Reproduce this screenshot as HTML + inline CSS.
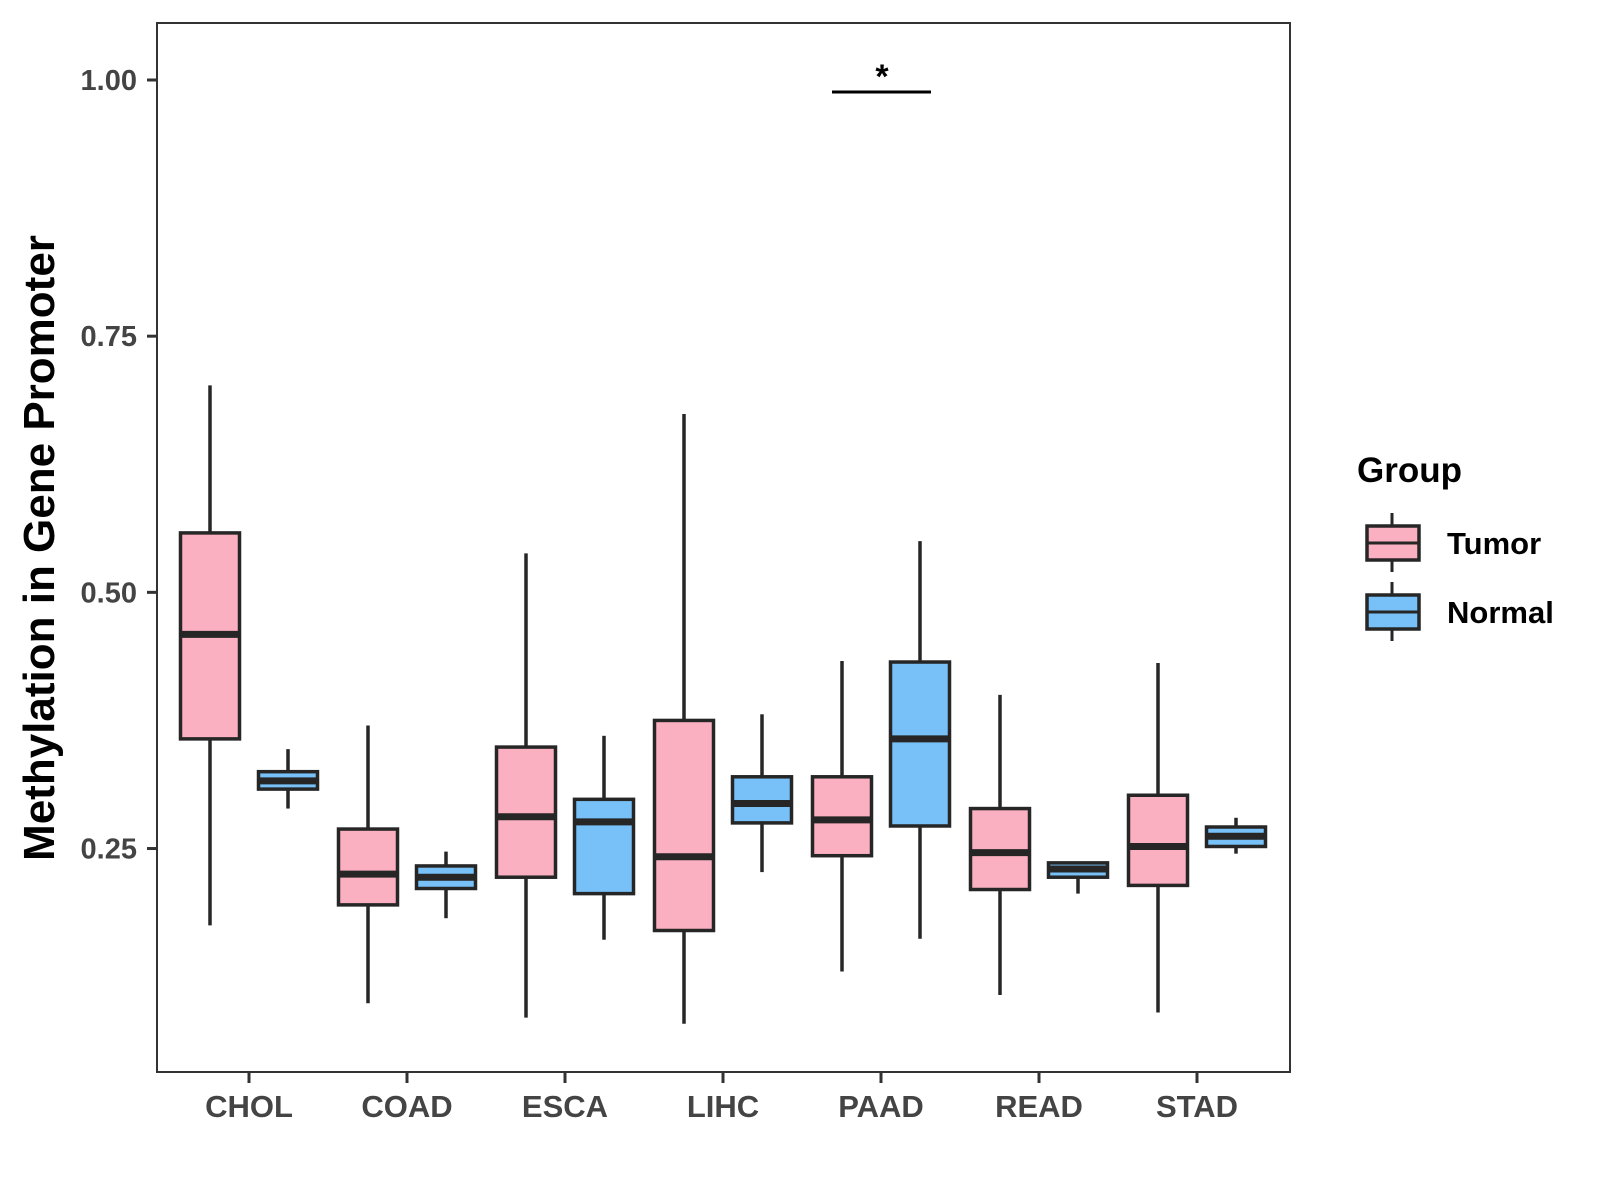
<!DOCTYPE html>
<html><head><meta charset="utf-8"><style>
html,body{margin:0;padding:0;background:#fff;}
svg{display:block;font-family:"Liberation Sans",Arial,sans-serif;}
</style></head><body>
<svg id="chart" width="1600" height="1200" viewBox="0 0 1600 1200" xmlns="http://www.w3.org/2000/svg">
<rect width="1600" height="1200" fill="#fff"/>
<g id="marks"></g>
<rect x="157" y="23" width="1133" height="1049" fill="none" stroke="#333" stroke-width="2"/>
<g id="axes"></g>
<text transform="translate(54,548) rotate(-90)" text-anchor="middle" font-size="44" font-weight="bold" fill="#000">Methylation in Gene Promoter</text>
<g>
<line x1="832" x2="931" y1="92" y2="92" stroke="#000" stroke-width="3"/>
<text x="882" y="88" text-anchor="middle" font-size="34" font-weight="bold">*</text>
</g>
<g>
<text x="1357" y="482" font-size="35" font-weight="bold" fill="#000">Group</text>
<g>
<line x1="1392" x2="1392" y1="513" y2="572" stroke="#262626" stroke-width="3"/>
<rect x="1367" y="526" width="52" height="34" fill="#FBB0C2" stroke="#262626" stroke-width="3.5"/>
<line x1="1367" x2="1419" y1="543" y2="543" stroke="#262626" stroke-width="3"/>
<text x="1447" y="554" font-size="31" font-weight="bold">Tumor</text>
</g>
<g>
<line x1="1392" x2="1392" y1="582" y2="641" stroke="#262626" stroke-width="3"/>
<rect x="1367" y="595" width="52" height="34" fill="#77C1F8" stroke="#262626" stroke-width="3.5"/>
<line x1="1367" x2="1419" y1="612" y2="612" stroke="#262626" stroke-width="3"/>
<text x="1447" y="623" font-size="31" font-weight="bold">Normal</text>
</g>
</g>
</svg>
<script>
const categories = ["CHOL","COAD","ESCA","LIHC","PAAD","READ","STAD"];
// each: [lowerWhisker, Q1, median, Q3, upperWhisker]
const tumorStats = [
  [0.175,0.357,0.459,0.558,0.702],
  [0.099,0.195,0.225,0.269,0.370],
  [0.085,0.222,0.281,0.349,0.538],
  [0.079,0.170,0.242,0.375,0.674],
  [0.130,0.243,0.278,0.320,0.433],
  [0.107,0.210,0.246,0.289,0.400],
  [0.090,0.214,0.252,0.302,0.431]
];
const normalStats = [
  [0.289,0.308,0.316,0.325,0.347],
  [0.182,0.211,0.222,0.233,0.247],
  [0.161,0.206,0.276,0.298,0.360],
  [0.227,0.275,0.294,0.320,0.381],
  [0.162,0.272,0.357,0.432,0.550],
  [0.206,0.222,0.230,0.236,0.236],
  [0.245,0.252,0.262,0.271,0.280]
];
const yTicks = [0.25,0.50,0.75,1.00];
const yTickLabels = ["0.25","0.50","0.75","1.00"];

const NS="http://www.w3.org/2000/svg";
const yScale = v => 80 + (1 - v) * 1024.7;
const xScale = i => 249 + i * 158;
const BW = 59, OFF = 39;
const marks = document.getElementById('marks');
const axes = document.getElementById('axes');
function mk(tag, attrs, parent){
  const e=document.createElementNS(NS,tag);
  for(const k in attrs) e.setAttribute(k,attrs[k]);
  parent.appendChild(e); return e;
}
function drawBox(stats, cx, fill, name){
  const g = mk('g',{},marks);
  
  
  const [lo,q1,md,q3,hi]=stats;
  mk('line',{x1:cx,x2:cx,y1:yScale(hi),y2:yScale(q3),stroke:'#262626','stroke-width':3.5},g);
  mk('line',{x1:cx,x2:cx,y1:yScale(q1),y2:yScale(lo),stroke:'#262626','stroke-width':3.5},g);
  mk('rect',{x:cx-BW/2,y:yScale(q3),width:BW,height:Math.max(0.5,yScale(q1)-yScale(q3)),fill:fill,stroke:'#262626','stroke-width':3.5},g);
  mk('line',{x1:cx-BW/2,x2:cx+BW/2,y1:yScale(md),y2:yScale(md),stroke:'#262626','stroke-width':7},g);
}
categories.forEach((c,i)=>{
  drawBox(tumorStats[i], xScale(i)-OFF, '#FBB0C2', 'box-tumor-'+c.toLowerCase());
  drawBox(normalStats[i], xScale(i)+OFF, '#77C1F8', 'box-normal-'+c.toLowerCase());
  const t = mk('line',{x1:xScale(i),x2:xScale(i),y1:1072,y2:1083,stroke:'#333','stroke-width':3},axes);
  
  
  const l = mk('text',{x:xScale(i),y:1117,'text-anchor':'middle','font-size':31,'font-weight':'bold',fill:'#444'},axes);
  l.textContent=c;
  
  
});
yTicks.forEach((v,i)=>{
  const t = mk('line',{x1:147,x2:157,y1:yScale(v),y2:yScale(v),stroke:'#333','stroke-width':3},axes);
  
  
  const l = mk('text',{x:137,y:yScale(v)+10,'text-anchor':'end','font-size':29,'font-weight':'bold',fill:'#444'},axes);
  l.textContent=yTickLabels[i];
  
  
});
</script>
</body></html>
